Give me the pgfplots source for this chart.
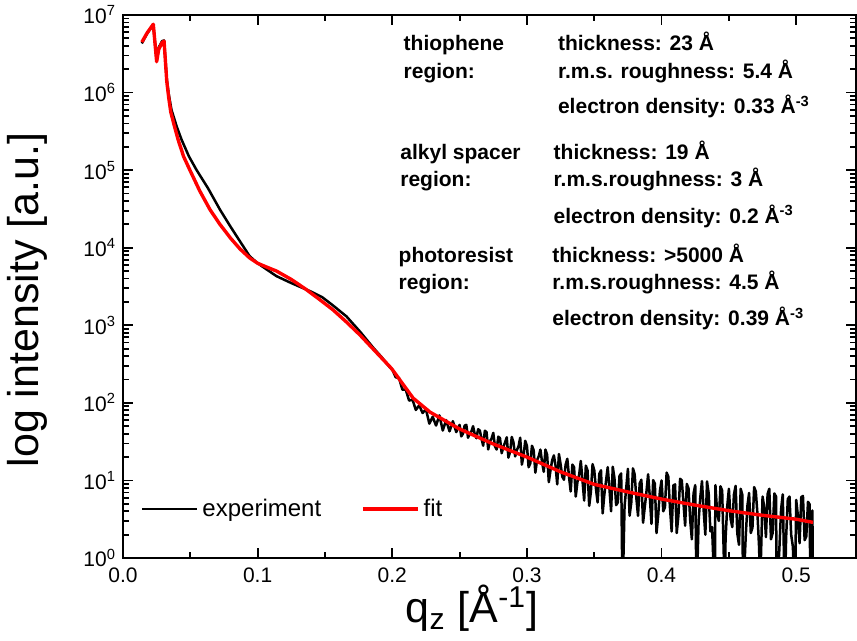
\documentclass[border=0pt]{standalone}
\usepackage{fontspec}
\setmainfont{Liberation Sans}
\usepackage{pgfplots}
\pgfplotsset{compat=1.18}

% experiment (black)
\pgfplotstableread{
q I
0.0140 4.3e6
0.0180 5.8e6
0.0225 7.5e6
0.0250 2.6e6
0.0265 3.8e6
0.0290 4.6e6
0.0305 4.7e6
0.0325 1.5e6
0.0340 9.5e5
0.0360 6.0e5
0.0400 3.6e5
0.0436 2.45e5
0.0490 1.5e5
0.0547 1.0e5
0.0630 5.9e4
0.0720 3.1e4
0.0800 1.85e4
0.0870 1.2e4
0.0940 7.8e3
0.1000 6.3e3
0.1070 5.2e3
0.1140 4.3e3
0.1250 3.5e3
0.1390 2.75e3
0.1480 2.3e3
0.1560 1.8e3
0.1660 1.3e3
0.1760 830
0.1860 510
0.1920 390
0.1980 290
0.2000 269
0.2025 214
0.2050 209
0.2075 148
0.2100 148
0.2125 107
0.2150 110
0.2175 81
0.2200 93
0.2225 74
0.2250 83
0.2275 54
0.2300 66
0.2325 51
0.2350 69
0.2375 44
0.2400 60
0.2425 43
0.2450 58
0.2475 42
0.2500 52
0.25125 37
0.2525 40
0.25375 51
0.2550 52
0.25625 35.5
0.2575 40
0.25875 42.7
0.2600 50
0.26125 39.4
0.2625 35
0.26375 45.7
0.2650 44
0.26625 34.7
0.2675 28
0.26875 43.7
0.2700 42
0.27125 25.1
0.2725 32
0.27375 34.7
0.2750 41
0.27625 27.5
0.2775 25
0.27875 36.7
0.2800 35
0.28125 22.4
0.2825 27
0.28375 30.9
0.2850 36
0.28625 19.7
0.2875 23.4
0.28875 36.3
0.2900 31
0.29125 20.4
0.2925 24.5
0.29375 27.5
0.2950 35.5
0.29625 16.0
0.2975 21
0.29875 32.4
0.3000 28
0.30125 14.8
0.3025 16.6
0.30375 28
0.3050 24.5
0.30625 12.6
0.3075 18.2
0.30875 20.4
0.3100 25
0.31125 17.2
0.3125 12.9
0.31375 25
0.3150 21.4
0.31625 9.5
0.3175 13.5
0.31875 18.2
0.3200 21
0.32125 15.5
0.3225 8.9
0.32375 21.9
0.3250 16.2
0.32625 11.2
0.3275 10.2
0.32875 16.0
0.3300 19
0.33125 11.2
0.3325 7.2
0.33375 16.0
0.3350 14.8
0.33625 6.2
0.3375 9.5
0.33875 11.7
0.3400 17.8
0.34125 10.1
0.3425 5.5
0.34375 15.5
0.3450 13.5
0.34625 4.7
0.3475 7.1
0.34875 16.2
0.3500 13.5
0.35125 7.85
0.3525 5.2
0.35375 12.2
0.3550 13.5
0.35625 3.76
0.3575 6.6
0.35875 9.9
0.3600 14.8
0.36125 8.0
0.3625 4.0
0.36375 15.0
0.3650 10.7
0.36625 4.8
0.3675 5.2
0.36875 11.4
0.3700 12.3
0.3710 0.3
0.3725 4.6
0.37375 8.0
0.3750 14.1
0.37625 3.5
0.3775 5.2
0.37875 14.3
0.3800 12.0
0.38125 6.0
0.3825 3.5
0.38375 9.2
0.3850 10.2
0.38625 2.85
0.3875 4.5
0.38875 7.1
0.3900 12.0
0.39125 6.2
0.3925 2.75
0.39375 10.1
0.3950 9.1
0.39625 2.1
0.3975 3.55
0.39875 7.3
0.4000 10.0
0.40125 4.0
0.4025 4.5
0.40375 12.6
0.4050 11.2
0.40625 4.4
0.4075 2.2
0.40875 8.6
0.4100 8.9
0.41125 2.1
0.4125 3.5
0.41375 10.5
0.4150 10.0
0.41625 5.2
0.4175 2.6
0.41875 9.0
0.4200 7.9
0.42125 3.1
0.4225 1.74
0.42375 6.8
0.4250 8.7
0.4260 0.3
0.4275 3.0
0.42875 6.0
0.4300 9.8
0.43125 4.1
0.4325 2.0
0.43375 9.7
0.4350 6.8
0.43625 2.2
0.4375 2.5
0.4395 0.3
0.4400 8.7
0.44125 3.85
0.4425 3.0
0.44375 8.4
0.4450 7.4
0.4470 0.3
0.4475 1.74
0.44875 4.6
0.4500 7.8
0.45125 3.2
0.4525 2.5
0.45375 6.6
0.4550 8.5
0.45625 2.07
0.4575 1.48
0.45875 7.8
0.4600 6.5
0.4605 0.3
0.4625 1.9
0.46375 4.7
0.4650 6.9
0.46625 2.1
0.4675 2.45
0.46875 8.2
0.4700 7.2
0.47125 3.6
0.4725 1.29
0.4730 0.3
0.4750 6.2
0.47625 4.5
0.4775 1.86
0.47875 6.7
0.4800 7.8
0.48125 1.74
0.4825 2.1
0.48375 6.8
0.4850 6.2
0.4855 0.3
0.4875 1.32
0.48875 4.2
0.4900 6.6
0.4915 0.3
0.4925 1.82
0.49375 5.75
0.4950 6.2
0.49625 2.0
0.4975 1.41
0.4990 0.3
0.5000 5.6
0.50125 3.5
0.5025 1.55
0.50375 6.1
0.5050 6.3
0.50625 1.7
0.5075 1.9
0.50875 5.3
0.5100 4.9
0.5105 0.3
0.5120 4.1
0.5125 0.3
}\expdata

% fit (red)
\pgfplotstableread{
q I
0.0140 4.47e6
0.0180 5.9e6
0.0225 7.6e6
0.0250 2.5e6
0.0265 3.6e6
0.0290 4.4e6
0.0305 4.6e6
0.0325 1.4e6
0.0340 8.5e5
0.0355 5.6e5
0.0380 3.8e5
0.0410 2.45e5
0.0450 1.5e5
0.0497 1.0e5
0.0570 5.4e4
0.0646 3.1e4
0.0720 2.0e4
0.0800 1.32e4
0.0870 9.6e3
0.0940 7.4e3
0.1000 6.3e3
0.1070 5.6e3
0.1140 5.0e3
0.1250 3.9e3
0.1360 2.9e3
0.1460 2.15e3
0.1560 1.58e3
0.1660 1.1e3
0.1760 750
0.1860 490
0.1920 380
0.1980 295
0.2000 269
0.2075 178
0.2155 115
0.2280 76
0.2500 46
0.2750 29.5
0.3000 20
0.3250 12.9
0.3500 8.9
0.3750 7.1
0.4000 5.75
0.4250 4.8
0.4500 4.07
0.4750 3.55
0.5000 3.16
0.5125 2.88
}\fitdata

\begin{document}
\begin{tikzpicture}
\useasboundingbox (-61.5pt,-41.5pt) rectangle (367pt,279pt);
\begin{axis}[
    at={(0pt,0pt)}, anchor=south west,
    scale only axis,
    width=366.5pt, height=271.5pt,
    xmin=0, xmax=0.5444,
    ymin=1, ymax=1e7,
    ymode=log,
    xtick={0,0.1,0.2,0.3,0.4,0.5},
    xticklabels={0.0,0.1,0.2,0.3,0.4,0.5},
    minor x tick num=1,
    ytick={1,10,100,1000,10000,100000,1000000,10000000},
    yticklabels={10\textsuperscript{0},10\textsuperscript{1},10\textsuperscript{2},10\textsuperscript{3},10\textsuperscript{4},10\textsuperscript{5},10\textsuperscript{6},10\textsuperscript{7}},
    tick align=inside,
    major tick length=5pt, minor tick length=3pt,
    every tick/.style={black, line width=0.9pt},
    axis line style={line width=1pt},
    ticklabel style={font=\fontsize{10.5}{12}\selectfont},
    xticklabel style={yshift=-1.5pt},
    xlabel={q\textsubscript{z} [Å\textsuperscript{-1}]},
    ylabel={log intensity [a.u.]},
    label style={font=\fontsize{21.5}{24}\selectfont},
    xlabel style={at={(axis description cs:0.476,-0.093)}, anchor=center, inner sep=0pt},
    ylabel style={at={(axis description cs:-0.13,0.475)}, anchor=center},
    legend columns=2,
    legend style={at={(axis description cs:0.024,0.09)}, anchor=west,
        draw=none, fill=none, inner sep=0pt,
        font=\fontsize{12}{14}\selectfont,
        /tikz/every even column/.append style={column sep=18pt}},
    legend image code/.code={\draw[#1] (0pt,0pt) -- (27.5pt,0pt);},
]
\addplot[black, line width=1.25pt, line join=round] table[x=q, y=I] {\expdata};
\addlegendentry{experiment}
\addplot[red, line width=1.7pt, line join=round] table[x=q, y=I] {\fitdata};
\addlegendentry{fit}

\begin{scope}[every node/.style={anchor=base west, inner sep=0pt, font=\bfseries\fontsize{10.5}{12}\selectfont}]
\node at (rel axis cs:0.3824,0.9355) {thiophene};
\node at (rel axis cs:0.3824,0.8834) {region:};
\node at (rel axis cs:0.5930,0.9355) {thickness: 23 Å};
\node at (rel axis cs:0.5930,0.8834) {r.m.s. roughness: 5.4 Å};
\node at (rel axis cs:0.5930,0.8177) {electron density: 0.33 Å\textsuperscript{-3}};
\node at (rel axis cs:0.3779,0.7330) {alkyl spacer};
\node at (rel axis cs:0.3779,0.6838) {region:};
\node at (rel axis cs:0.5870,0.7330) {thickness: 19 Å};
\node at (rel axis cs:0.5870,0.6838) {r.m.s.roughness: 3 Å};
\node at (rel axis cs:0.5870,0.6164) {electron density: 0.2 Å\textsuperscript{-3}};
\node at (rel axis cs:0.3756,0.5438) {photoresist};
\node at (rel axis cs:0.3756,0.4948) {region:};
\node at (rel axis cs:0.5853,0.5438) {thickness: >5000 Å};
\node at (rel axis cs:0.5853,0.4948) {r.m.s.roughness: 4.5 Å};
\node at (rel axis cs:0.5853,0.4273) {electron density: 0.39 Å\textsuperscript{-3}};
\end{scope}
\end{axis}
\end{tikzpicture}
\end{document}
